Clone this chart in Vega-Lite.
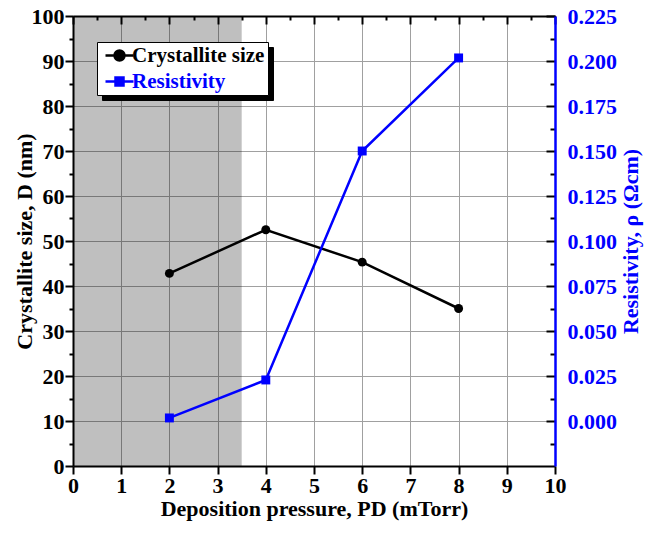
{
  "$schema": "https://vega.github.io/schema/vega-lite/v6.json",
  "width": 482,
  "height": 450,
  "autosize": {"type": "none"},
  "padding": {"left": 73, "top": 16, "right": 92, "bottom": 67},
  "background": "white",
  "config": {
    "view": {"stroke": null},
    "axis": {
      "labelFont": "Liberation Serif",
      "titleFont": "Liberation Serif",
      "labelFontWeight": "bold",
      "titleFontWeight": "bold",
      "labelFontSize": 22,
      "titleFontSize": 22,
      "labelColor": "black",
      "titleColor": "black",
      "domainColor": "black",
      "tickColor": "black",
      "domainWidth": 2,
      "tickWidth": 2,
      "gridColor": "#a0a0a0",
      "gridWidth": 1
    }
  },
  "datasets": {
    "shade": [{"start": 0, "end": 3.5}],
    "cryst": [
      {"p": 2, "size": 42.8},
      {"p": 4, "size": 52.5},
      {"p": 6, "size": 45.3},
      {"p": 8, "size": 35.0}
    ],
    "res": [
      {"p": 2, "rho": 0.0017},
      {"p": 4, "rho": 0.0228},
      {"p": 6, "rho": 0.150},
      {"p": 8, "rho": 0.2017}
    ]
  },
  "layer": [
    {
      "data": {"name": "shade"},
      "mark": {"type": "rect", "fill": "black"},
      "encoding": {
        "x": {"field": "start", "type": "quantitative", "scale": {"domain": [0, 10], "nice": false}, "axis": null},
        "x2": {"field": "end"},
        "opacity": {
          "datum": "shadowA", "type": "nominal",
          "scale": {"domain": ["shadowA", "shadowB"], "range": [0.25, 0.25]},
          "legend": {
            "orient": "none",
            "legendX": 29,
            "legendY": 31,
            "zindex": 1,
            "title": null,
            "fillColor": "black",
            "strokeColor": "black",
            "padding": 3,
            "labelFont": "Liberation Serif",
            "labelFontWeight": "bold",
            "labelFontSize": 21,
            "labelColor": "black",
            "labelExpr": "datum.value === 'shadowB' ? 'Resistivity' : 'Crystallite size'",
            "symbolSize": 100,
            "symbolOffset": 9,
            "labelOffset": 2,
            "rowPadding": 4,
            "encode": {
              "symbols": {"update": {
                "shape": {"signal": "datum.value === 'shadowB' ? 'M-2.8,0H2.8M-0.8,-0.8H0.8V0.8H-0.8Z' : 'M-2.8,0H2.8M1,0A1,1,0,1,1,-1,0A1,1,0,1,1,1,0Z'"},
                "fill": {"value": "black"},
                "stroke": {"value": "black"},
                "strokeWidth": {"value": 2.5},
                "opacity": {"value": 1}
              }},
              "labels": {"update": {"fill": {"value": "black"}, "opacity": {"value": 0}}}
            }
          }
        }
      }
    },
    {
      "data": {"name": "cryst"},
      "mark": {"type": "line", "strokeWidth": 2.5, "point": {"filled": true, "size": 80, "shape": "circle"}},
      "encoding": {
        "x": {
          "field": "p", "type": "quantitative",
          "scale": {"domain": [0, 10], "nice": false},
          "axis": {
            "orient": "bottom",
            "title": "Deposition pressure, PD (mTorr)",
            "format": "d",
            "values": [0, 0.5, 1, 1.5, 2, 2.5, 3, 3.5, 4, 4.5, 5, 5.5, 6, 6.5, 7, 7.5, 8, 8.5, 9, 9.5, 10],
            "labelExpr": "datum.value % 1 == 0 ? datum.label : ''",
            "labelFlush": false,
            "labelPadding": 1,
            "titlePadding": 2,
            "grid": true,
            "gridOpacity": {"condition": {"test": "datum.value % 1 != 0", "value": 0}, "value": 1},
            "tickSize": {"condition": {"test": "datum.value % 1 != 0", "value": 4}, "value": 8}
          }
        },
        "y": {
          "field": "size", "type": "quantitative",
          "scale": {"domain": [0, 100], "nice": false},
          "axis": {
            "orient": "left",
            "title": "Crystallite size, D (nm)",
            "format": "d",
            "values": [0, 5, 10, 15, 20, 25, 30, 35, 40, 45, 50, 55, 60, 65, 70, 75, 80, 85, 90, 95, 100],
            "labelExpr": "datum.value % 10 == 0 ? datum.label : ''",
            "labelPadding": 1,
            "titlePadding": -5,
            "grid": true,
            "gridOpacity": {"condition": {"test": "datum.value % 10 != 0", "value": 0}, "value": 1},
            "tickSize": {"condition": {"test": "datum.value % 10 != 0", "value": 4}, "value": 8}
          }
        },
        "color": {
          "datum": "Crystallite size", "type": "nominal",
          "scale": {"domain": ["Crystallite size", "Resistivity"], "range": ["black", "blue"]},
          "legend": {
            "orient": "none",
            "legendX": 24,
            "legendY": 26,
            "zindex": 2,
            "title": null,
            "fillColor": "white",
            "strokeColor": "black",
            "padding": 3,
            "labelFont": "Liberation Serif",
            "labelFontWeight": "bold",
            "labelFontSize": 21,
            "symbolSize": 100,
            "symbolStrokeWidth": 2.5,
            "symbolOffset": 9,
            "labelOffset": 2,
            "rowPadding": 4,
            "encode": {
              "symbols": {"update": {
                "shape": {"signal": "datum.value === 'Resistivity' ? 'M-2.8,0H2.8M-0.8,-0.8H0.8V0.8H-0.8Z' : 'M-2.8,0H2.8M1,0A1,1,0,1,1,-1,0A1,1,0,1,1,1,0Z'"},
                "fill": {"signal": "datum.value === 'Resistivity' ? 'blue' : 'black'"},
                "stroke": {"signal": "datum.value === 'Resistivity' ? 'blue' : 'black'"},
                "strokeWidth": {"value": 2.5},
                "opacity": {"value": 1}
              }},
              "labels": {"update": {
                "fill": {"signal": "datum.value === 'Resistivity' ? 'blue' : 'black'"}
              }}
            }
          }
        }
      }
    },
    {
      "data": {"name": "res"},
      "mark": {"type": "line", "strokeWidth": 2.5, "point": {"filled": true, "size": 80, "shape": "square"}},
      "encoding": {
        "x": {
          "field": "p", "type": "quantitative",
          "scale": {"domain": [0, 10], "nice": false},
          "axis": {
            "orient": "top",
            "title": null,
            "labels": false,
            "grid": false,
            "values": [0, 0.5, 1, 1.5, 2, 2.5, 3, 3.5, 4, 4.5, 5, 5.5, 6, 6.5, 7, 7.5, 8, 8.5, 9, 9.5, 10],
            "tickSize": {"condition": {"test": "datum.value % 1 != 0", "value": -4}, "value": -8}
          }
        },
        "y": {
          "field": "rho", "type": "quantitative",
          "scale": {"domain": [-0.025, 0.225], "nice": false, "zero": false},
          "axis": {
            "orient": "right",
            "title": "Resistivity, ρ (Ωcm)",
            "titleColor": "blue",
            "titleAngle": 270,
            "titleBaseline": "top",
            "labelColor": "blue",
            "domainColor": "blue",
            "domainWidth": 2.5,
            "grid": false,
            "format": ".3f",
            "values": [-0.0125, 0, 0.0125, 0.025, 0.0375, 0.05, 0.0625, 0.075, 0.0875, 0.1, 0.1125, 0.125, 0.1375, 0.15, 0.1625, 0.175, 0.1875, 0.2, 0.2125, 0.225],
            "labelExpr": "abs(datum.value*40 - round(datum.value*40)) < 0.01 ? datum.label : ''",
            "labelPadding": 21,
            "titlePadding": 4,
            "tickSize": {"condition": {"test": "abs(datum.value*40 - round(datum.value*40)) > 0.01", "value": -5}, "value": -9}
          }
        },
        "color": {"datum": "Resistivity", "type": "nominal"}
      }
    }
  ],
  "resolve": {"scale": {"y": "independent"}, "axis": {"x": "independent", "y": "independent"}}
}
